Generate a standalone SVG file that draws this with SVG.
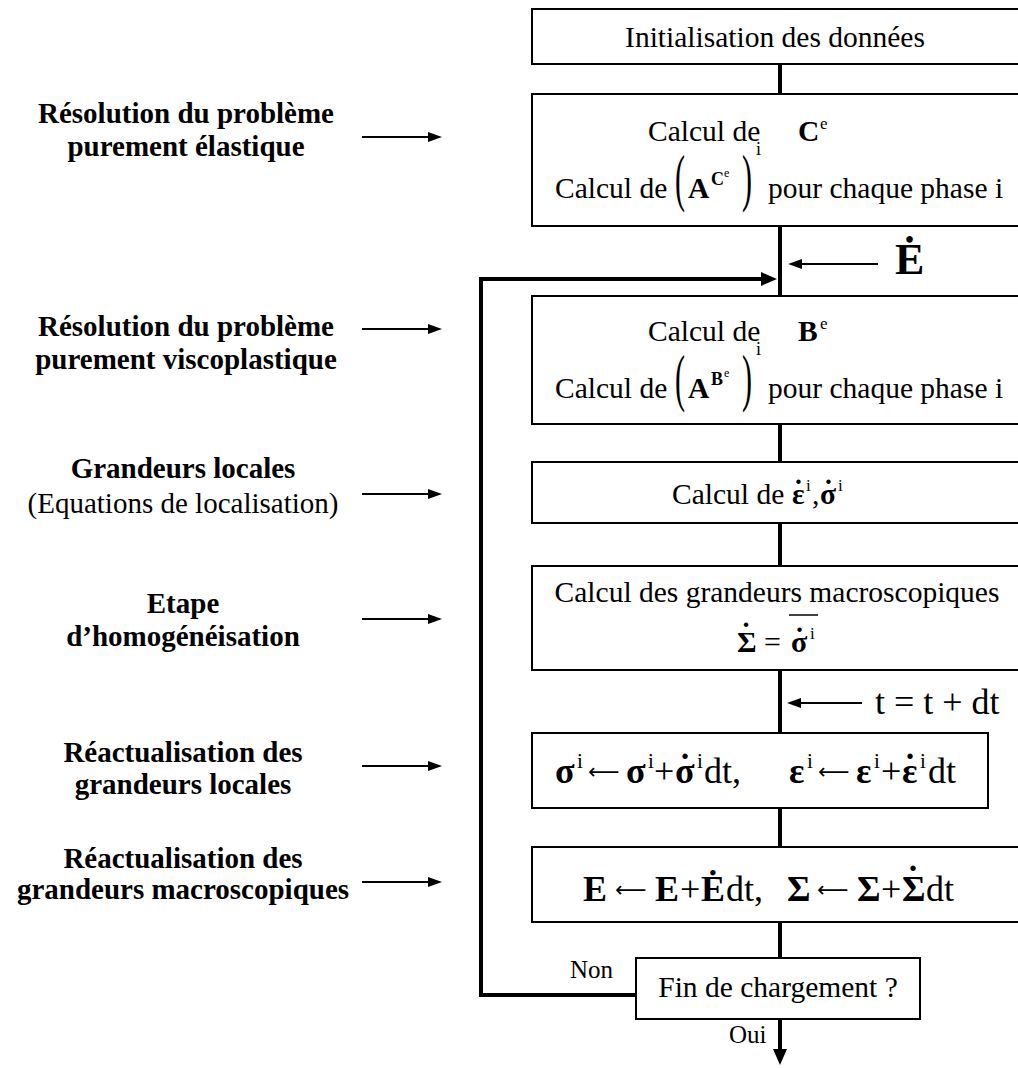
<svg xmlns="http://www.w3.org/2000/svg" width="1018" height="1068" viewBox="0 0 1018 1068">
<style>
text{font-family:"Liberation Serif","Times New Roman",serif;fill:#000}
.t{font-size:29.5px}
.m{font-size:36px}
.s{font-size:21px}
.ar{font-family:"DejaVu Sans",sans-serif;font-size:22px;font-weight:normal}
.lb{font-size:29px;font-weight:bold;text-anchor:middle}
.lr{font-size:29px;text-anchor:middle}
.b{font-weight:bold}
.c{text-anchor:middle}
.dot{font-weight:bold;text-anchor:middle}
.box{fill:#fff;stroke:#000;stroke-width:2}
.thick{fill:none;stroke:#000;stroke-width:4}
.thin{fill:none;stroke:#000;stroke-width:2}
</style>
<defs>
<marker id="ah" markerWidth="14" markerHeight="10" refX="4" refY="5" orient="auto" markerUnits="userSpaceOnUse"><path d="M0,0 L14,5 L0,10 z" fill="#000"/></marker>
<marker id="ahb" markerWidth="16" markerHeight="14" refX="4" refY="7" orient="auto" markerUnits="userSpaceOnUse"><path d="M0,0 L16,7 L0,14 z" fill="#000"/></marker>
</defs>
<rect width="1018" height="1068" fill="#fff"/>

<g id="connectors">
<line class="thick" x1="780" y1="64" x2="780" y2="94"/>
<line class="thick" x1="780" y1="226" x2="780" y2="296"/>
<line class="thick" x1="780" y1="424" x2="780" y2="462"/>
<line class="thick" x1="780" y1="523" x2="780" y2="566"/>
<line class="thick" x1="780" y1="670" x2="780" y2="733"/>
<line class="thick" x1="780" y1="808" x2="780" y2="847"/>
<line class="thick" x1="780" y1="922" x2="780" y2="958"/>
<line class="thick" x1="780" y1="1019" x2="780" y2="1053" marker-end="url(#ahb)"/>
<path class="thick" d="M636,995 H481 V279 H765" marker-end="url(#ahb)"/>
<line class="thin" x1="878" y1="264" x2="798" y2="264" marker-end="url(#ah)"/>
<line class="thin" x1="862" y1="703" x2="797" y2="703" marker-end="url(#ah)"/>
<line class="thin" x1="362" y1="137" x2="432" y2="137" marker-end="url(#ah)"/>
<line class="thin" x1="362" y1="329" x2="432" y2="329" marker-end="url(#ah)"/>
<line class="thin" x1="362" y1="494" x2="432" y2="494" marker-end="url(#ah)"/>
<line class="thin" x1="362" y1="619" x2="432" y2="619" marker-end="url(#ah)"/>
<line class="thin" x1="362" y1="766" x2="432" y2="766" marker-end="url(#ah)"/>
<line class="thin" x1="362" y1="882" x2="432" y2="882" marker-end="url(#ah)"/>
</g>

<g id="input-Edot">
<text x="895" y="274" style="font-size:44px;font-weight:bold">Ė</text>
</g>
<g id="input-t">
<text x="875" y="714" class="m" xml:space="preserve">t = t + dt</text>
</g>

<g id="node-init">
<rect class="box" x="532" y="9" width="500" height="55"/>
<text x="775" y="47" class="t c">Initialisation des données</text>
</g>

<g id="node-elastic">
<rect class="box" x="532" y="94" width="500" height="132"/>
<text class="t"><tspan x="648" y="141">Calcul de</tspan><tspan class="b" x="798" y="141">C</tspan><tspan x="820" y="129" style="font-size:17px">e</tspan></text>
<text class="t"><tspan x="555" y="198">Calcul de</tspan><tspan class="b" x="688" y="198">A</tspan><tspan class="b" x="711" y="185" style="font-size:18px">C</tspan><tspan x="724" y="177" style="font-size:12px">e</tspan><tspan x="756" y="155" style="font-size:18px">i</tspan><tspan x="768" y="198">pour chaque phase i</tspan></text>
<text transform="translate(675,199) scale(1,2.1)" style="font-size:30px">(</text>
<text transform="translate(742,199) scale(1,2.1)" style="font-size:30px">)</text>
</g>

<g id="node-visco">
<rect class="box" x="532" y="296" width="500" height="128"/>
<text class="t"><tspan x="648" y="341">Calcul de</tspan><tspan class="b" x="798" y="341">B</tspan><tspan x="820" y="329" style="font-size:17px">e</tspan></text>
<text class="t"><tspan x="555" y="398">Calcul de</tspan><tspan class="b" x="688" y="398">A</tspan><tspan class="b" x="711" y="385" style="font-size:18px">B</tspan><tspan x="724" y="377" style="font-size:12px">e</tspan><tspan x="756" y="355" style="font-size:18px">i</tspan><tspan x="768" y="398">pour chaque phase i</tspan></text>
<text transform="translate(675,399) scale(1,2.1)" style="font-size:30px">(</text>
<text transform="translate(742,399) scale(1,2.1)" style="font-size:30px">)</text>
</g>

<g id="node-local">
<rect class="box" x="532" y="462" width="500" height="61"/>
<text class="t"><tspan x="672" y="504">Calcul de</tspan><tspan class="b" x="792" y="504">ε</tspan><tspan class="dot" x="798.5" y="500">˙</tspan><tspan x="806" y="491" style="font-size:17px">i</tspan><tspan x="812" y="504">,</tspan><tspan class="b" x="820" y="504">σ</tspan><tspan class="dot" x="828.5" y="500">˙</tspan><tspan x="838" y="491" style="font-size:17px">i</tspan></text>
</g>

<g id="node-homog">
<rect class="box" x="532" y="566" width="500" height="104"/>
<text x="777" y="602" class="t c">Calcul des grandeurs macroscopiques</text>
<text style="font-size:30px"><tspan class="b" x="737" y="652">Σ</tspan><tspan class="dot" x="746" y="643">˙</tspan><tspan x="764" y="652">=</tspan><tspan class="b" x="791" y="652">σ</tspan><tspan class="dot" x="799.5" y="648">˙</tspan><tspan x="810" y="639" style="font-size:17px">i</tspan></text>
<line x1="789" y1="615" x2="818" y2="615" stroke="#000" stroke-width="1.5"/>
</g>

<g id="node-update-local">
<rect class="box" x="532" y="733" width="456" height="75"/>
<text class="m"><tspan class="b" x="555" y="783">σ</tspan><tspan class="s" x="577" y="768">i</tspan><tspan class="ar" x="588" y="779">⟵</tspan><tspan class="b" x="626" y="783">σ</tspan><tspan class="s" x="648" y="768">i</tspan><tspan x="654" y="783">+</tspan><tspan class="b" x="675" y="783">σ</tspan><tspan class="dot" x="685" y="779">˙</tspan><tspan class="s" x="697" y="768">i</tspan><tspan x="704" y="783">dt,</tspan></text>
<text class="m"><tspan class="b" x="789" y="783">ε</tspan><tspan class="s" x="807" y="768">i</tspan><tspan class="ar" x="818" y="779">⟵</tspan><tspan class="b" x="856" y="783">ε</tspan><tspan class="s" x="874" y="768">i</tspan><tspan x="881" y="783">+</tspan><tspan class="b" x="902" y="783">ε</tspan><tspan class="dot" x="910" y="779">˙</tspan><tspan class="s" x="920" y="768">i</tspan><tspan x="928" y="783">dt</tspan></text>
</g>

<g id="node-update-macro">
<rect class="box" x="532" y="847" width="500" height="75"/>
<text class="m"><tspan class="b" x="583" y="901">E</tspan><tspan class="ar" x="615" y="897">⟵</tspan><tspan class="b" x="655" y="901">E</tspan><tspan x="680" y="901">+</tspan><tspan class="b" x="701" y="901">Ė</tspan><tspan x="726" y="901">dt,</tspan></text>
<text class="m"><tspan class="b" x="787" y="901">Σ</tspan><tspan class="ar" x="817" y="897">⟵</tspan><tspan class="b" x="857" y="901">Σ</tspan><tspan x="881" y="901">+</tspan><tspan class="b" x="902" y="901">Σ</tspan><tspan class="dot" x="913" y="891">˙</tspan><tspan x="926" y="901">dt</tspan></text>
</g>

<g id="node-end">
<rect class="box" x="636" y="958" width="284" height="61"/>
<text x="778" y="997" class="t c">Fin de chargement ?</text>
<text x="570" y="978" style="font-size:25px">Non</text>
<text x="729" y="1043" style="font-size:25px">Oui</text>
</g>

<g id="label-elastic">
<text x="186" y="123" class="lb">Résolution du problème</text>
<text x="186" y="156" class="lb">purement élastique</text>
</g>
<g id="label-visco">
<text x="186" y="336" class="lb">Résolution du problème</text>
<text x="186" y="369" class="lb">purement viscoplastique</text>
</g>
<g id="label-local">
<text x="183" y="478" class="lb">Grandeurs locales</text>
<text x="183" y="513" class="lr">(Equations de localisation)</text>
</g>
<g id="label-homog">
<text x="183" y="613" class="lb">Etape</text>
<text x="183" y="646" class="lb">d’homogénéisation</text>
</g>
<g id="label-update-local">
<text x="183" y="762" class="lb">Réactualisation des</text>
<text x="183" y="794" class="lb">grandeurs locales</text>
</g>
<g id="label-update-macro">
<text x="183" y="868" class="lb">Réactualisation des</text>
<text x="183" y="899" class="lb">grandeurs macroscopiques</text>
</g>
</svg>
